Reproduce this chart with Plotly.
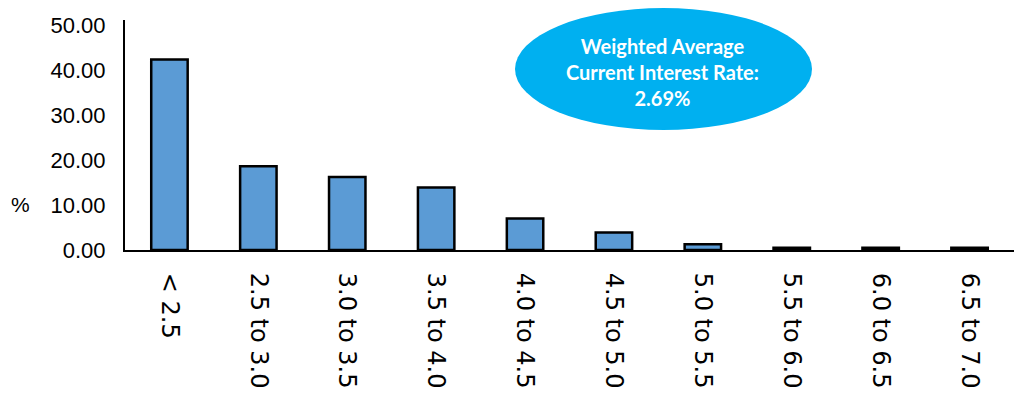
import plotly.graph_objects as go

categories = ["< 2.5", "2.5 to 3.0", "3.0 to 3.5", "3.5 to 4.0", "4.0 to 4.5",
              "4.5 to 5.0", "5.0 to 5.5", "5.5 to 6.0", "6.0 to 6.5", "6.5 to 7.0"]
values = [42.3, 18.6, 16.2, 13.9, 7.0, 3.9, 1.3, 0.5, 0.5, 0.5]
y_ticks = [0, 10, 20, 30, 40, 50]
y_ticklabels = ["0.00", "10.00", "20.00", "30.00", "40.00", "50.00"]
callout_text = "Weighted Average<br>Current Interest Rate:<br>2.69%"

fig = go.Figure()
fig.add_trace(go.Bar(
    x=list(range(len(categories))), y=values,
    marker=dict(color="#5B9BD5", line=dict(color="#000000", width=2.5)),
    width=0.41,
))

fig.update_layout(
    width=1016, height=402,
    margin=dict(l=125, r=2, t=20, b=152),
    paper_bgcolor="white", plot_bgcolor="white",
    showlegend=False,
    bargap=0.59,
    xaxis=dict(
        range=[-0.5, 9.5], tickmode="array",
        tickvals=list(range(len(categories))), ticktext=categories,
        tickangle=90, showgrid=False, zeroline=False,
        showline=True, linecolor="#000000", linewidth=2,
        ticks="", ticklabelstandoff=16, automargin=False,
        tickfont=dict(family="DejaVu Sans", size=24, color="#000000"),
    ),
    yaxis=dict(
        range=[0, 51.1], tickmode="array", tickvals=y_ticks, ticktext=y_ticklabels,
        showgrid=False, zeroline=False,
        showline=True, linecolor="#000000", linewidth=2,
        ticks="", ticklabelstandoff=13, automargin=False,
        tickfont=dict(family="Liberation Sans", size=22, color="#000000"),
    ),
)

fig.add_shape(type="circle", xref="paper", yref="paper",
              x0=0.4387, x1=0.7728, y0=0.5217, y1=1.052,
              fillcolor="#00B0F0", line=dict(color="#00B0F0", width=0), layer="above")
fig.add_annotation(xref="paper", yref="paper", x=0.605, y=0.775,
                   text=callout_text, showarrow=False,
                   font=dict(family="Lato", size=20, color="white", weight="bold"),
                   align="center", xanchor="center", yanchor="middle")
fig.add_annotation(xref="paper", yref="paper", x=-0.117, y=0.196,
                   text="%", showarrow=False, xanchor="center", yanchor="middle",
                   font=dict(family="Liberation Sans", size=21, color="#000000"))

fig.write_html("out.html", config={"displayModeBar": False},
               post_script="document.body.style.margin='0';document.body.style.padding='0';")
